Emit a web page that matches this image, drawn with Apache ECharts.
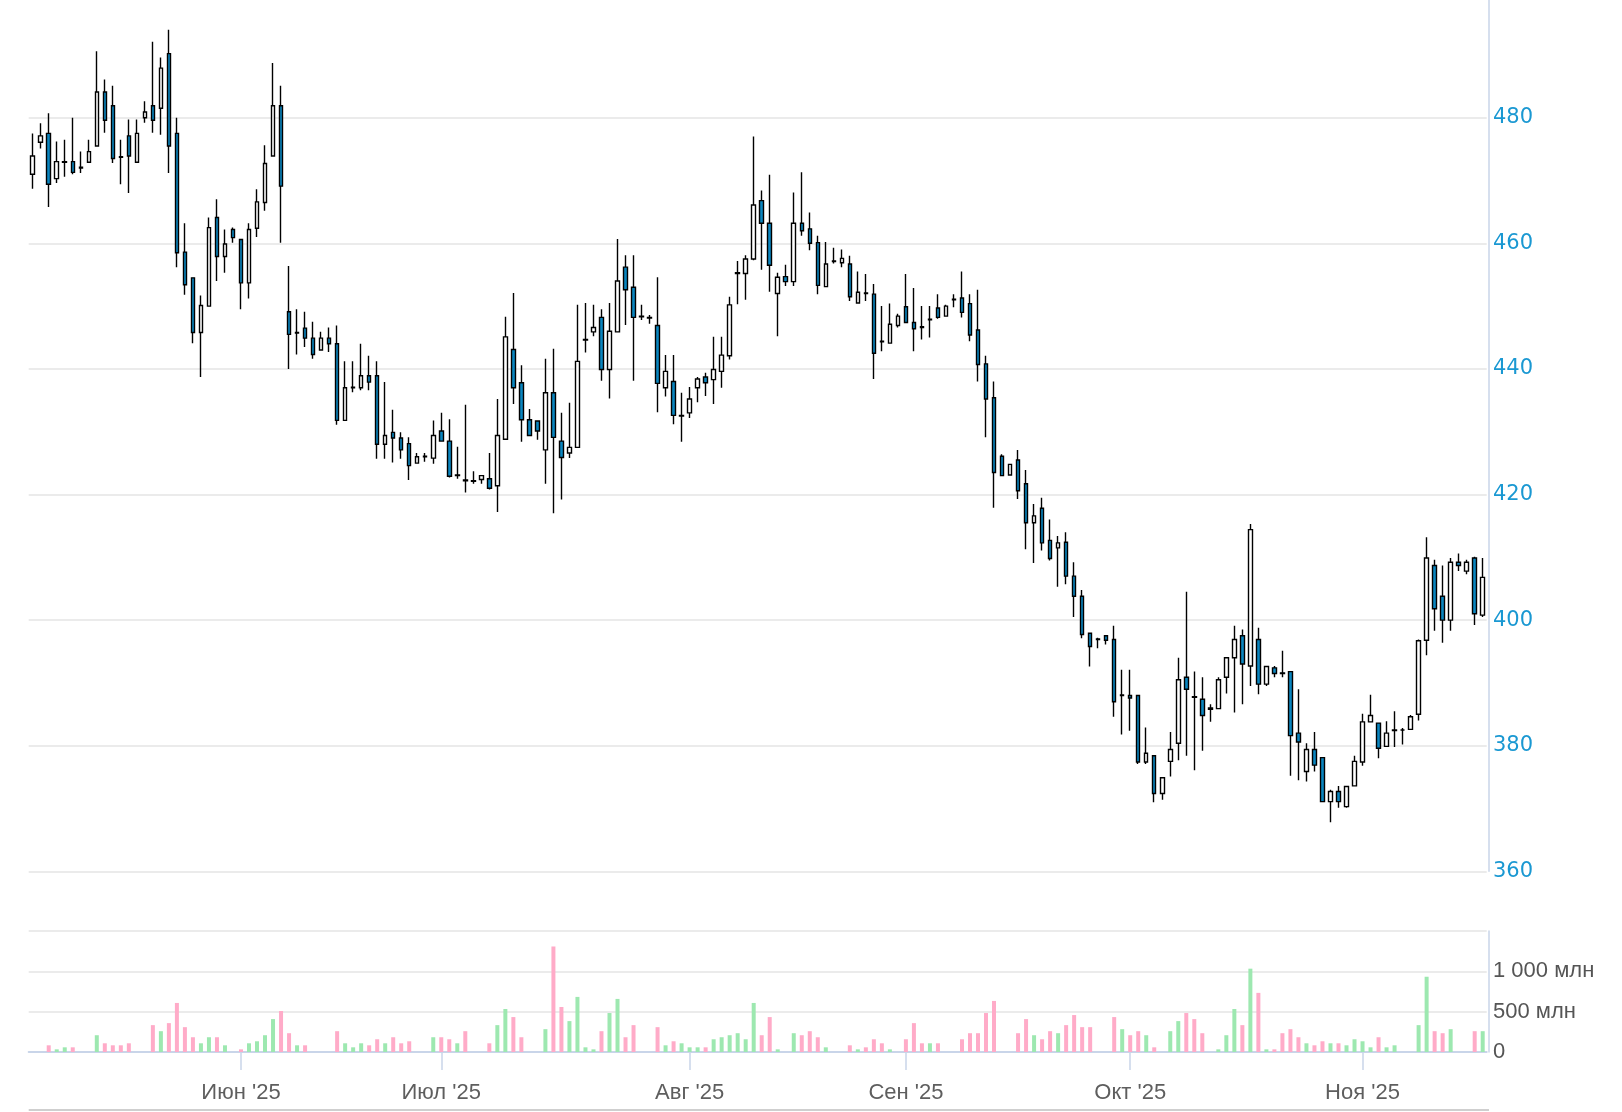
<!DOCTYPE html>
<html><head><meta charset="utf-8">
<script src="https://cdn.jsdelivr.net/npm/echarts@6/dist/echarts.min.js"></script>
<style>html,body{margin:0;padding:0;background:#fff;}#c{width:1622px;height:1112px;}</style>
</head><body><div id="c"></div>
<script>
const opens = [471.0,476.1,477.5,470.3,472.9,473.0,472.1,472.9,475.5,484.1,481.9,473.8,477.1,472.9,480.0,481.9,481.5,490.2,477.5,458.6,
454.5,445.8,450.0,464.1,457.9,462.2,460.6,453.7,462.4,466.5,473.9,481.9,449.1,445.7,446.5,444.9,443.0,444.9,444.0,431.8,
437.0,437.0,438.9,438.9,428.0,429.9,429.0,428.1,425.0,426.0,425.8,430.1,428.5,423.0,422.3,422.2,422.4,422.5,421.4,428.8,
443.1,437.8,431.9,431.7,427.1,436.2,428.5,426.6,427.5,444.6,445.9,448.2,439.9,445.9,456.2,453.0,448.4,448.2,446.9,437.0,
438.0,432.5,433.0,437.0,438.7,438.3,439.6,442.1,455.2,455.2,457.5,466.8,463.2,452.0,454.7,453.9,463.2,462.3,460.1,453.1,
457.2,456.9,456.7,450.5,452.1,451.9,444.4,444.1,446.9,449.9,447.4,446.7,447.8,449.7,448.4,451.0,451.3,450.4,446.2,440.8,
435.4,426.1,423.1,425.5,421.7,415.5,417.8,412.7,411.5,412.4,407.0,403.8,397.9,397.0,397.5,396.9,388.0,388.0,388.0,377.4,
378.4,372.4,377.5,380.4,390.9,387.8,387.4,386.0,385.9,390.9,394.0,397.5,392.7,396.9,389.8,392.4,391.6,391.8,382.0,375.9,
379.4,378.1,371.1,372.7,370.3,373.6,377.4,383.8,383.6,379.9,382.4,382.5,382.6,385.0,396.8,408.7,403.8,400.0,409.2,407.8,
409.9,400.8];
const closes = [473.9,477.1,469.4,473.0,473.0,471.3,472.0,474.6,484.1,479.6,473.5,473.7,473.9,477.5,480.9,479.6,487.9,475.5,458.5,453.4,
445.8,450.1,462.5,457.9,459.9,460.9,453.7,462.2,466.6,472.7,481.9,469.1,445.5,445.8,444.9,442.3,444.9,444.0,431.8,437.0,
437.1,438.9,437.9,428.0,429.4,429.0,427.1,424.6,426.0,426.1,429.4,428.5,422.9,423.1,422.2,422.1,423.0,421.0,429.4,445.1,
437.0,431.9,429.4,430.1,436.2,429.1,425.9,427.5,441.2,444.7,446.6,439.9,446.0,454.0,452.6,448.2,448.3,448.1,437.7,439.6,
432.6,432.6,435.2,438.4,437.8,439.9,442.2,450.2,455.3,457.5,466.1,463.2,456.5,454.6,453.9,463.2,462.0,460.0,453.3,456.7,
457.1,457.6,451.5,452.2,452.0,442.5,444.3,447.1,448.4,447.4,446.4,446.6,447.9,448.2,450.0,451.1,449.0,445.4,440.7,435.2,
423.5,423.0,424.8,420.6,415.5,416.6,412.3,409.8,412.3,407.0,403.8,397.7,395.8,396.9,396.8,387.0,388.1,387.6,377.4,378.8,
372.4,374.9,379.4,390.5,389.0,387.7,384.8,385.8,390.5,394.0,396.9,393.0,414.4,389.8,392.6,391.5,391.5,381.6,380.6,379.4,
376.9,371.1,372.7,371.1,373.5,377.5,383.8,384.8,379.6,382.0,382.5,382.5,384.6,396.7,409.9,401.8,400.0,409.2,408.7,409.2,
401.0,406.8];
const lows = [468.7,475.1,465.8,469.6,470.6,471.0,471.2,472.8,475.4,477.6,472.8,469.4,468.0,472.8,479.2,477.6,477.3,471.2,456.2,451.8,
444.1,438.7,450.0,454.0,455.3,460.1,449.5,451.2,461.0,465.2,473.9,460.1,440.0,442.3,443.5,441.6,443.0,442.7,431.1,431.8,
436.3,436.6,436.6,425.7,425.7,425.1,425.7,422.3,424.9,425.2,424.9,428.5,422.7,422.5,420.3,421.7,421.7,420.8,417.2,428.8,
434.4,428.4,429.4,428.7,421.7,417.0,419.2,425.8,427.5,442.6,445.2,438.1,435.3,445.9,447.0,438.1,447.8,447.2,433.1,435.6,
431.2,428.4,432.2,434.7,435.7,434.4,437.0,441.5,450.3,451.0,457.3,455.8,452.3,445.2,453.2,453.2,461.2,458.9,451.9,453.1,
456.8,456.2,450.8,450.5,450.8,438.4,442.8,444.1,446.6,447.4,442.8,444.7,445.0,448.0,448.4,449.8,448.2,444.4,438.0,429.1,
417.9,422.9,423.1,419.3,411.3,409.1,411.1,409.5,405.3,405.7,400.5,397.1,392.6,395.5,396.1,384.6,381.8,382.4,377.1,377.1,
371.0,371.4,375.1,377.7,378.4,376.1,379.2,383.8,385.9,388.3,385.3,386.6,389.5,388.2,389.5,390.9,390.9,375.2,374.5,374.3,
375.9,371.1,367.8,370.1,370.1,373.6,376.8,383.8,378.0,379.8,379.8,380.2,382.5,384.0,394.4,398.3,396.4,398.3,407.8,407.3,
399.2,400.5];
const highs = [477.5,479.1,480.7,476.2,476.5,480.0,474.6,476.5,490.6,486.1,485.1,476.5,479.7,479.7,482.6,492.1,489.6,494.0,480.0,463.2,
454.5,451.7,464.1,467.0,462.2,462.5,460.6,463.2,468.6,475.6,488.7,485.1,456.4,449.5,449.1,447.5,445.9,446.6,446.9,441.2,
441.2,444.0,442.1,441.2,437.9,433.5,429.9,429.1,426.6,426.6,431.8,433.0,432.0,427.6,434.3,423.7,423.1,426.6,435.2,448.3,
452.1,440.6,433.6,431.7,441.6,443.2,433.0,434.6,450.2,450.5,450.2,449.5,450.5,460.7,458.1,458.1,450.2,448.6,454.6,442.2,
442.2,436.2,437.1,438.7,439.4,445.1,445.1,451.5,457.2,458.1,477.0,468.4,470.9,455.3,456.6,468.1,471.3,464.9,461.2,460.2,
459.3,459.0,458.0,455.5,455.1,453.5,450.0,450.4,448.8,455.1,452.9,450.0,450.0,451.9,450.2,451.9,455.5,451.9,452.6,442.1,
438.0,426.4,424.8,427.1,423.9,418.5,419.5,416.0,413.4,414.0,409.2,404.8,397.9,397.2,397.5,399.1,392.1,392.1,388.0,382.9,
378.4,374.9,382.2,394.0,404.5,391.8,390.9,386.6,390.9,394.0,399.1,398.5,415.3,398.8,392.7,392.7,395.1,391.8,389.0,380.4,
382.2,378.1,373.0,373.6,373.6,378.4,385.1,388.1,383.7,383.9,385.5,382.8,384.9,396.9,413.2,409.6,408.7,409.9,410.6,409.6,
410.1,409.9];
// volume, millions
const volumes = [0,0,83,33,58,58,0,0,208,108,83,83,108,0,0,333,258,358,608,308,
183,108,183,183,83,0,33,108,133,208,408,508,233,83,83,0,0,0,258,108,
58,108,83,158,108,183,108,133,0,0,183,183,158,108,258,0,0,108,333,533,
433,183,0,0,283,1308,558,383,683,58,33,258,483,658,183,333,0,0,308,83,
133,108,58,58,58,158,183,208,233,158,608,208,433,33,0,233,208,258,183,58,
0,0,83,33,58,158,108,33,0,158,358,108,108,108,0,0,158,233,233,483,
633,0,0,233,408,208,158,258,233,333,458,308,308,0,0,433,283,208,258,208,
58,0,258,383,483,408,233,0,33,208,533,333,1033,733,33,33,233,283,183,108,
83,133,108,108,83,158,133,58,183,58,83,0,0,333,933,258,233,283,0,0,
258,258];
const monthTickIndex = [26,51,82,109,137,166];
const monthTickLabels = ["Июн '25","Июл '25","Авг '25","Сен '25","Окт '25","Ноя '25"];

const categories = opens.map((_, i) => String(i));
const UP_FILL = '#ffffff', DOWN_FILL = '#0a86c0';
const VOL_UP = '#9de8b0', VOL_DOWN = '#ffabc8';
const GRID_LINE = '#e5e5e5', AXIS_LINE = '#c9d5e9';

const isMonthTick = (i) => monthTickIndex.indexOf(i) >= 0;

const chart = echarts.init(document.getElementById('c'), null, {renderer: 'canvas'});
chart.setOption({
  animation: false,
  backgroundColor: '#ffffff',
  grid: [
    {left: 28.7, right: 135.3, top: -7.9, height: 879.2, containLabel: false, outerBoundsMode: 'none'},
    {left: 28.7, right: 135.3, top: 931, height: 121, containLabel: false, outerBoundsMode: 'none'}
  ],
  xAxis: [
    {type: 'category', gridIndex: 0, data: categories, boundaryGap: true,
     axisLine: {show: false}, axisTick: {show: false}, axisLabel: {show: false}, splitLine: {show: false}},
    {type: 'category', gridIndex: 1, data: categories, boundaryGap: true, offset: 10,
     axisLine: {show: true, lineStyle: {color: AXIS_LINE, width: 2}},
     axisTick: {show: true, alignWithLabel: true, interval: (i) => isMonthTick(i), length: 18,
                lineStyle: {color: AXIS_LINE, width: 1.5}},
     axisLabel: {interval: (i) => isMonthTick(i), margin: 20, color: '#5e5e5e', fontSize: 22,
                 fontFamily: 'Liberation Sans', formatter: (v, i) => monthTickLabels[monthTickIndex.indexOf(i)] || ''},
     splitLine: {show: false}}
  ],
  yAxis: [
    {type: 'value', gridIndex: 0, position: 'right', min: 360, max: 500, interval: 20, offset: 2.3,
     axisLine: {show: true, lineStyle: {color: AXIS_LINE, width: 1.5}},
     axisTick: {show: false},
     axisLabel: {color: '#1a98d2', fontSize: 21, margin: 4, fontFamily: 'DejaVu Sans', showMaxLabel: false},
     splitLine: {show: true, lineStyle: {color: GRID_LINE, width: 1.5}}},
    {type: 'value', gridIndex: 1, position: 'right', min: 0, max: 1500, interval: 500, offset: 2.3,
     axisLine: {show: true, lineStyle: {color: AXIS_LINE, width: 1.5}},
     axisTick: {show: false},
     axisLabel: {color: '#555555', fontSize: 22, margin: 4, fontFamily: 'Liberation Sans', showMaxLabel: false,
                 formatter: (v) => v === 0 ? '0' : (v >= 1000 ? (Math.floor(v/1000) + ' ' + String(v % 1000).padStart(3, '0')) : v) + ' млн'},
     splitLine: {show: true, lineStyle: {color: GRID_LINE, width: 1.5}}}
  ],
  series: [
    {type: 'candlestick', xAxisIndex: 0, yAxisIndex: 0, barWidth: 4,
     data: opens.map((o, i) => [o, closes[i], lows[i], highs[i]]),
     itemStyle: {color: UP_FILL, color0: DOWN_FILL, borderColor: '#000', borderColor0: '#000', borderColorDoji: '#000', borderWidth: 1.4}},
    {type: 'bar', xAxisIndex: 1, yAxisIndex: 1, barWidth: 4,
     data: volumes.map((v, i) => ({value: v, itemStyle: {color: closes[i] >= opens[i] ? VOL_UP : VOL_DOWN}}))}
  ],
  graphic: [
    {type: 'line', shape: {x1: 28.7, y1: 1110, x2: 1489, y2: 1110}, style: {stroke: '#cfcfcf', lineWidth: 2}, silent: true}
  ]
});
</script></body></html>
